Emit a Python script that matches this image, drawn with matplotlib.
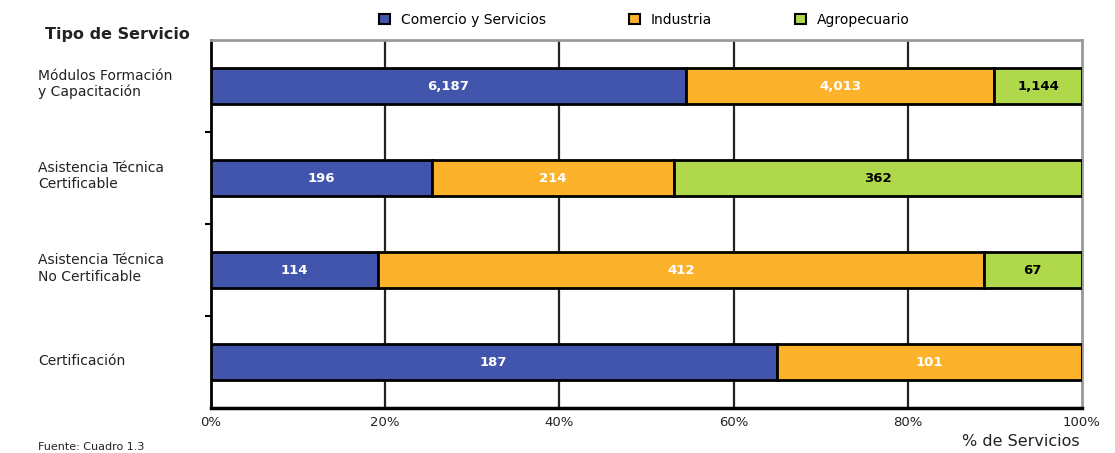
import matplotlib
matplotlib.use("Agg")
import matplotlib.pyplot as plt
from matplotlib.patches import Patch
import numpy as np

plt.rcParams["font.family"] = ["DejaVu Sans"]

# data
categories = ["Módulos Formación\ny Capacitación",
              "Asistencia Técnica\nCertificable",
              "Asistencia Técnica\nNo Certificable",
              "Certificación"]
series_names = ["Comercio y Servicios", "Industria", "Agropecuario"]
comercio = [6187, 196, 114, 187]
industria = [4013, 214, 412, 101]
agropecuario = [1144, 362, 67, 0]
colors = ["#4155AD", "#FDB22C", "#AFD94B"]
label_colors = ["white", "white", "black"]
xticks = [0, 20, 40, 60, 80, 100]

values = np.array([comercio, industria, agropecuario], dtype=float)
totals = values.sum(axis=0)
pct = values / totals * 100

fig = plt.figure(figsize=(11.15, 4.53), dpi=100)
ax = fig.add_axes([0.1892, 0.0993, 0.7812, 0.8124])

y = np.arange(len(categories))
left = np.zeros(len(categories))
for i, name in enumerate(series_names):
    ax.barh(y, pct[i], left=left, height=0.39, color=colors[i],
            edgecolor="black", linewidth=2, label=name, zorder=3)
    for j in range(len(categories)):
        if values[i, j] > 0:
            ax.text(left[j] + pct[i, j] / 2, y[j], f"{int(values[i, j]):,}",
                    ha="center", va="center", fontsize=9.5, fontweight="bold",
                    color=label_colors[i], zorder=4)
    left += pct[i]

ax.set_xlim(0, 100)
ax.set_ylim(len(categories) - 0.5, -0.5)
ax.set_xticks(xticks)
ax.set_xticklabels([f"{t}%" for t in xticks], fontsize=9.5, color="#222222")
ax.tick_params(axis="x", length=0, pad=6)
for t in xticks[1:-1]:
    ax.axvline(t, color="#222222", lw=1.6, zorder=1)

# category labels drawn as text (left aligned), ticks between categories
ax.set_yticks([k + 0.5 for k in range(len(categories) - 1)])
ax.set_yticklabels([])
ax.tick_params(axis="y", length=4, width=1.5, direction="out")
for j, cat in enumerate(categories):
    fig.text(0.034, 1 - (84 + 92.3 * j) / 453, cat, ha="left", va="center",
             fontsize=10, color="#222222", linespacing=1.2)

ax.spines["left"].set_linewidth(2)
ax.spines["bottom"].set_linewidth(2.5)
ax.spines["top"].set_color("#999999")
ax.spines["top"].set_linewidth(2)
ax.spines["right"].set_color("#999999")
ax.spines["right"].set_linewidth(2)

fig.text(0.040, 1 - 35 / 453, "Tipo de Servicio", fontsize=11.5, fontweight="bold",
         color="#222222", va="center", ha="left")
fig.text(0.034, 1 - 447 / 453, "Fuente: Cuadro 1.3", fontsize=8, color="#222222",
         va="center", ha="left")
fig.text(0.968, 1 - 441 / 453, "% de Servicios", fontsize=11.5, color="#222222",
         va="center", ha="right")

handles = [Patch(facecolor=c, edgecolor="black", linewidth=1.5) for c in colors]
fig.legend(handles, series_names, loc="center", bbox_to_anchor=(0.578, 1 - 20 / 453),
           ncol=3, frameon=False, fontsize=10, handlelength=0.75, handleheight=0.75,
           columnspacing=6.0, handletextpad=0.8)

fig.savefig("out.png", dpi=100)
